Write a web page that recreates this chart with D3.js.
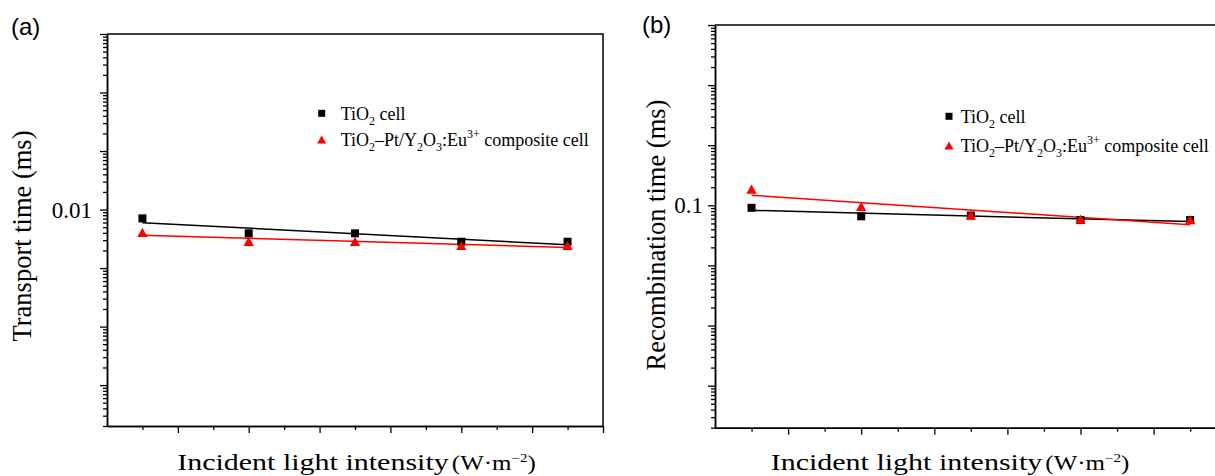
<!DOCTYPE html>
<html><head><meta charset="utf-8">
<script src="https://cdn.jsdelivr.net/npm/d3@7"></script>
<style>body{margin:0;background:#fff}svg{display:block}</style>
</head><body>
<svg id="chart" width="1215" height="476"></svg>
<script>
// ---------- data ----------
const intensity = [10, 40, 70, 100, 130];               // W·m^-2 (no labels shown in figure)
const transportTiO2 = [0.00707, 0.00392, 0.00392, 0.00282, 0.00282];
const transportComposite = [0.00407, 0.00284, 0.00284, 0.00242, 0.00242];
const recombTiO2 = [0.0909, 0.0656, 0.0676, 0.0569, 0.0569];
const recombComposite = [0.1854, 0.0955, 0.0690, 0.0587, 0.0574];
const xDomain = [0, 140];
const xMajorTicks = [20, 40, 60, 80, 100, 120, 140];
const xMinorTicks = [10, 30, 50, 70, 90, 110, 130];
const yDomainA = [2e-6, 10];
const yDomainB = [2e-5, 100];
const yLabelsA = [0.01];
const yLabelsB = [0.1];

const SERIF = "'Liberation Serif','Times New Roman',serif";
const SANS = "'Liberation Sans',Arial,sans-serif";
const RED = "#ff0000";
const svg = d3.select("#chart");

function legendText(t, parts) {
  // parts: [text, mode] mode: n normal, sub, sup
  let shift = 0;
  parts.forEach(([s, m]) => {
    const target = m === "sub" ? 5 : m === "sup" ? -8 : 0;
    t.append("tspan").text(s)
      .attr("font-size", m === "n" ? 18 : 12)
      .attr("dy", target - shift);
    shift = target;
  });
}

function linFitLog(xs, ys) {
  const ly = ys.map(Math.log10);
  const mx = d3.mean(xs), my = d3.mean(ly);
  const b = d3.sum(xs, (v, i) => (v - mx) * (ly[i] - my)) / d3.sum(xs, v => (v - mx) * (v - mx));
  const a = my - b * mx;
  return v => Math.pow(10, a + b * v);
}

function panel(cfg) {
  const g = svg.append("g");
  const x = d3.scaleLinear().domain(xDomain).range([cfg.left, cfg.right]);
  const y = d3.scaleLog().domain(cfg.yDomain).range([cfg.bottom, cfg.top]);

  // frame top/right
  g.append("path")
    .attr("d", `M${cfg.left},${cfg.top}H${cfg.right}V${cfg.bottom}`)
    .attr("fill", "none").attr("stroke", "#000").attr("stroke-width", 1.5);

  // y axis
  const allY = y.ticks();
  const isMajor = d => Math.abs(Math.log10(d) - Math.round(Math.log10(d))) < 1e-9;
  const majors = allY.filter(isMajor);
  const minors = allY.filter(d => !isMajor(d));
  const yMin = g.append("g").attr("transform", `translate(${cfg.left},0)`)
    .call(d3.axisLeft(y).tickValues(minors).tickSize(4).tickSizeOuter(0).tickFormat(""));
  const yMaj = g.append("g").attr("transform", `translate(${cfg.left},0)`)
    .call(d3.axisLeft(y).tickValues(majors).tickSize(7).tickSizeOuter(0).tickPadding(cfg.pad)
      .tickFormat(d => { const m = cfg.yLabels.find(v => Math.abs(v - d) / v < 1e-9); return m !== undefined ? String(m) : ""; }));

  // x axis
  const xMin = g.append("g").attr("transform", `translate(0,${cfg.bottom})`)
    .call(d3.axisBottom(x).tickValues(xMinorTicks).tickSize(4).tickSizeOuter(0).tickFormat(""));
  const xMaj = g.append("g").attr("transform", `translate(0,${cfg.bottom})`)
    .call(d3.axisBottom(x).tickValues(xMajorTicks).tickSize(7).tickSizeOuter(0).tickFormat(""));

  [yMin, yMaj, xMin, xMaj].forEach(a => {
    a.select(".domain").attr("stroke", "#000").attr("stroke-width", 1.5);
    a.selectAll(".tick line").attr("stroke", "#000").attr("stroke-width", 1.3);
  });
  yMaj.selectAll(".tick text").attr("font-family", SERIF).attr("font-size", 23).attr("fill", "#000").attr("dy", "0.33em");

  // fit lines
  const line = d3.line().x(d => x(d[0])).y(d => y(d[1]));
  cfg.series.forEach(s => {
    const f = linFitLog(intensity, s.values);
    const ends = d3.extent(intensity);
    g.append("path").datum(ends.map(v => [v, f(v)]))
      .attr("d", line).attr("fill", "none").attr("stroke", s.color).attr("stroke-width", 1.5);
  });

  // markers
  const tri = "M0,-4.7L5.2,4.5L-5.2,4.5Z";
  cfg.series.forEach(s => {
    const pts = intensity.map((v, i) => [v, s.values[i]]);
    if (s.shape === "square") {
      g.selectAll(null).data(pts).enter().append("rect")
        .attr("x", d => x(d[0]) - 4).attr("y", d => y(d[1]) - 4)
        .attr("width", 8).attr("height", 8).attr("fill", s.color);
    } else {
      g.selectAll(null).data(pts).enter().append("path")
        .attr("d", tri).attr("transform", d => `translate(${x(d[0])},${y(d[1])})`)
        .attr("fill", s.color);
    }
  });

  // legend
  const L = cfg.legend;
  g.append("rect").attr("x", L.mx - 3.5).attr("y", L.y1 - 3.5).attr("width", 7).attr("height", 7).attr("fill", "#000");
  g.append("path").attr("d", "M0,-4L4.6,4L-4.6,4Z").attr("transform", `translate(${L.mx},${L.y2})`).attr("fill", RED);
  const t1 = g.append("text").attr("x", L.tx).attr("y", L.b1).attr("font-family", SERIF).attr("fill", "#000");
  legendText(t1, [["TiO", "n"], ["2", "sub"], [" cell", "n"]]);
  const t2 = g.append("text").attr("x", L.tx).attr("y", L.b2).attr("font-family", SERIF).attr("fill", "#000");
  legendText(t2, [["TiO", "n"], ["2", "sub"], ["\u2013Pt/Y", "n"], ["2", "sub"], ["O", "n"], ["3", "sub"], [":Eu", "n"], ["3+", "sup"], [" composite cell", "n"]]);

  // y title
  g.append("text").attr("transform", `translate(${cfg.yTitleX},${cfg.yTitleY}) rotate(-90)`)
    .attr("text-anchor", "middle").attr("font-family", SERIF).attr("font-size", 26.5).attr("fill", "#000")
    .text(cfg.yTitle);

  // x title (horizontally stretched as in the reference)
  const xt = g.append("text").attr("transform", `translate(${cfg.xTitleX},${cfg.xTitleY}) scale(1.25,1)`)
    .attr("text-anchor", "middle").attr("font-family", SERIF).attr("fill", "#000");
  xt.append("tspan").text("Incident light intensity").attr("font-size", 24);
  xt.append("tspan").text("(W\u00b7m").attr("font-size", 20).attr("dx", 2.5);
  xt.append("tspan").text("\u22122").attr("font-size", 12).attr("dy", -8);
  xt.append("tspan").text(")").attr("font-size", 20).attr("dy", 8);

  // panel label
  g.append("text").attr("x", cfg.labelX).attr("y", cfg.labelY).attr("font-family", SANS)
    .attr("font-size", 24).attr("fill", "#000").text(cfg.label);
}

panel({
  left: 107, right: 603, top: 34, bottom: 426, yDomain: yDomainA, yLabels: yLabelsA, pad: 8,
  series: [
    { values: transportTiO2, color: "#000", shape: "square" },
    { values: transportComposite, color: RED, shape: "triangle" }
  ],
  legend: { mx: 321.7, y1: 113.3, y2: 139.5, tx: 340.7, b1: 119.5, b2: 146 },
  yTitle: "Transport time (ms)", yTitleX: 30.5, yTitleY: 236,
  xTitleX: 356.5, xTitleY: 470,
  label: "(a)", labelX: 11, labelY: 35
});

panel({
  left: 715, right: 1226.7, top: 25, bottom: 427.7, yDomain: yDomainB, yLabels: yLabelsB, pad: 5,
  series: [
    { values: recombTiO2, color: "#000", shape: "square" },
    { values: recombComposite, color: RED, shape: "triangle" }
  ],
  legend: { mx: 949, y1: 116.3, y2: 145.5, tx: 960.7, b1: 123, b2: 152.3 },
  yTitle: "Recombination time (ms)", yTitleX: 665, yTitleY: 235,
  xTitleX: 950, xTitleY: 469.5,
  label: "(b)", labelX: 642, labelY: 33
});
</script>
</body></html>
